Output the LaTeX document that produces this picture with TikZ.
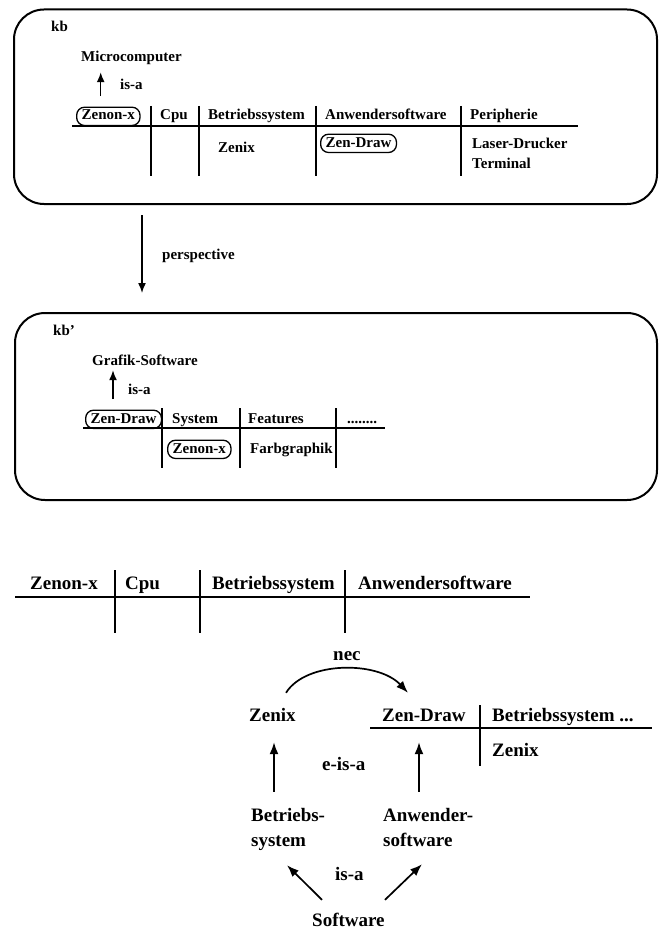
\documentclass[tikz,border=0pt]{standalone}
\usepackage{fontspec}
\setmainfont{Liberation Serif}
\usetikzlibrary{arrows.meta,calc}
\begin{document}
\begin{tikzpicture}[x=1pt,y=-1pt,
  tA/.style={font=\fontsize{15}{18}\selectfont\bfseries, inner sep=0pt, text height=10.5pt, text depth=3.2pt, anchor=base west},
  tB/.style={font=\fontsize{19}{23}\selectfont\bfseries, inner sep=0pt, text height=13pt, text depth=4pt, anchor=base west},
  pill/.style={tA, draw, line width=1.3pt, rounded corners=8pt, inner xsep=5pt, inner ysep=2.3pt},
  kbbox/.style={draw, line width=2pt, rounded corners=30pt, inner sep=0pt, outer sep=0pt},
  tline/.style={line width=1.4pt},
  hline/.style={line width=2.3pt},
  arrA/.style={line width=1.5pt, -{Latex[length=10pt,width=8pt]}},
  arrB/.style={line width=1.7pt, -{Latex[length=12pt,width=9pt]}},
]
\fill[white] (0,0) rectangle (660,931);
\useasboundingbox (0,0) rectangle (660,931);

% ---------- box kb ----------
\node[kbbox, minimum width=643pt, minimum height=194.5pt] (kb) at (335.5,106.75) {};
\node[tA] (kbl) at (51,32) {kb};
\node[tA] (mc) at (81,62) {Microcomputer};
\node[tA] (isa1) at (120,90) {is-a};
\node[pill] (zx1) at (76,120) {Zenon-x};
\node[tA] (cpu1) at (160,120) {Cpu};
\node[tA] (bs1) at (208,120) {Betriebssystem};
\node[tA] (aw1) at (325,120) {Anwendersoftware};
\node[tA] (per1) at (470,120) {Peripherie};
\node[tA] (zenix1) at (218,152) {Zenix};
\node[pill] (zd1) at (320,147) {Zen-Draw};
\node[tA] (ld1) at (472,148) {Laser-Drucker};
\node[tA] (term1) at (472,168) {Terminal};
\draw[hline] (72,126) -- (578,126);
\foreach \x in {151,199,316,461} \draw[tline] (\x,106) -- (\x,176);
\draw[arrA] ([shift={(24.7,-10.5)}]zx1.north west) -- ([shift={(19.7,6.8)}]mc.south west);

% ---------- perspective ----------
\node[kbbox, minimum width=642pt, minimum height=187pt] (kb2) at (336,406.5) {};
\node[tA] (persp) at (162,259) {perspective};
\draw[arrA] ([shift={(-193.5,11)}]kb.south) -- ([shift={(-194,-20)}]kb2.north);

% ---------- box kb' ----------
\node[tA] (kb2l) at (53,335) {kb'};
\node[tA] (gs) at (92,365) {Grafik-Software};
\node[tA] (isa2) at (128,394) {is-a};
\node[pill] (zd2) at (85,423) {Zen-Draw};
\node[tA] (sys2) at (172,423) {System};
\node[tA] (feat2) at (248,423) {Features};
\node[tA] (dots2) at (347,423) {........};
\node[pill] (zx2) at (167,453) {Zenon-x};
\node[tA] (farb2) at (250,453) {Farbgraphik};
\draw[hline] (83,428) -- (385,428);
\foreach \x in {162,240,336} \draw[tline] (\x,408) -- (\x,468);
\draw[arrA] ([shift={(28,-10.5)}]zd2.north west) -- ([shift={(21,1.8)}]gs.south west);

% ---------- bottom table ----------
\node[tB] (zx3) at (30,589) {Zenon-x};
\node[tB] (cpu3) at (125,589) {Cpu};
\node[tB] (bs3) at (212,589) {Betriebssystem};
\node[tB] (aw3) at (358,589) {Anwendersoftware};
\draw[hline] (15,597) -- (530,597);
\foreach \x in {115,200,345} \draw[tline] (\x,570) -- (\x,633);

% ---------- bottom graph ----------
\node[tB] (nec) at (333,660) {nec};
\node[tB] (zenix4) at (249,721.5) {Zenix};
\node[tB] (zd4) at (382,721.5) {Zen-Draw};
\node[tB] (bs4) at (492,721.5) {Betriebssystem ...};
\node[tB] (zenix5) at (492,756.5) {Zenix};
\draw[hline] (370,728) -- (652,728);
\draw[tline] (480,705) -- (480,766);
\node[tB] (eisa) at (322,770) {e-is-a};
\node[tB] (betr) at (251,821.5) {Betriebs-};
\node[tB] (syst) at (251,846.5) {system};
\node[tB] (anw) at (383,821.5) {Anwender-};
\node[tB] (soft) at (383,846.5) {software};
\node[tB] (isa4) at (335,880) {is-a};
\node[tB, text depth=1pt] (sw) at (312,926.5) {Software};

\draw[arrB] ([shift={(37,-15.5)}]zenix4.north west) .. controls ($(zenix4.north west)+(57,-47.5)$) and ($(zd4.north west)+(-4,-47.5)$) .. ([shift={(26,-15.5)}]zd4.north west);
\draw[arrB] ([shift={(23,-16.5)}]betr.north west) -- ([shift={(25,16.5)}]zenix4.south west);
\draw[arrB] ([shift={(36,-16.5)}]anw.north west) -- ([shift={(37,16.5)}]zd4.south west);
\draw[arrB] ([shift={(10,-13.5)}]sw.north west) -- ([shift={(36,14.5)}]syst.south west);
\draw[arrB] ([shift={(73,-13.5)}]sw.north west) -- ([shift={(39,13.5)}]soft.south west);
\end{tikzpicture}
\end{document}
